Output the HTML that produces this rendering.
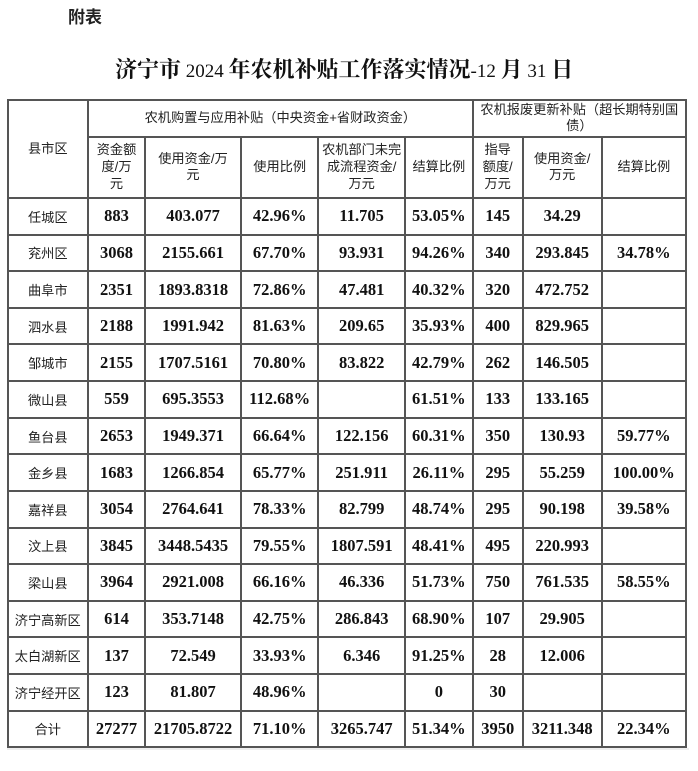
<!DOCTYPE html>
<html><head><meta charset="utf-8">
<style>
*{margin:0;padding:0;box-sizing:border-box}
html,body{width:698px;height:771px;background:#fff;overflow:hidden}
body{position:relative;font-family:"Liberation Sans","Noto Sans CJK SC",sans-serif;color:#1a1a1a}
.h{position:absolute;height:2px;background:#555}
.v{position:absolute;width:2px;background:#555}
.r{position:absolute;left:0;width:698px;height:36.62px}
.r>div,.hd{position:absolute;top:0;height:100%;display:flex;align-items:center;justify-content:center;text-align:center}
.r>div{font-family:"Liberation Serif",serif;font-weight:bold;font-size:16.5px;color:#111}
.r>div.n{font-family:"Liberation Sans","Noto Sans CJK SC",sans-serif;font-weight:normal;font-size:13.2px;color:#222}
.c1{left:7.5px;width:80.5px}.c2{left:88px;width:57px}.c3{left:145px;width:96px}.c4{left:241px;width:77.3px}
.c5{left:318.3px;width:86.7px}.c6{left:405px;width:67.7px}.c7{left:472.7px;width:50px}.c8{left:522.7px;width:79px}.c9{left:601.7px;width:84.3px}
.hd{font-size:13.2px;line-height:16.7px;color:#222;font-family:"Liberation Sans","Noto Sans CJK SC",sans-serif}
.title{position:absolute;left:115px;top:56px;white-space:nowrap;font-family:"Noto Serif CJK SC","Liberation Serif",serif;font-weight:bold;font-size:22px;line-height:26px;color:#111}
.title .d{font-family:"Liberation Serif",serif;font-weight:normal;font-size:19px}
</style></head><body>
<div style="position:absolute;left:68px;top:6px;font-size:17px;font-weight:bold;font-family:'Noto Sans CJK SC',sans-serif;color:#222;line-height:20px">附表</div>
<div class="title">济宁市<span class="d"> 2024 </span>年农机补贴工作落实情况<span class="d">-12 </span>月<span class="d"> 31 </span>日</div>

<!-- header texts -->
<div class="hd c1" style="top:100px;height:98px">县市区</div>
<div class="hd" style="left:88px;width:384.7px;top:100px;height:36.7px">农机购置与应用补贴（中央资金+省财政资金）</div>
<div class="hd" style="left:472.7px;width:213.3px;top:100px;height:36.7px">农机报废更新补贴（超长期特别国<br>债）</div>
<div class="hd c2" style="top:136.7px;height:61.3px">资金额<br>度/万<br>元</div>
<div class="hd c3" style="top:136.7px;height:61.3px">使用资金/万<br>元</div>
<div class="hd c4" style="top:136.7px;height:61.3px">使用比例</div>
<div class="hd c5" style="top:136.7px;height:61.3px">农机部门未完<br>成流程资金/<br>万元</div>
<div class="hd c6" style="top:136.7px;height:61.3px">结算比例</div>
<div class="hd c7" style="top:136.7px;height:61.3px">指导<br>额度/<br>万元</div>
<div class="hd c8" style="top:136.7px;height:61.3px">使用资金/<br>万元</div>
<div class="hd c9" style="top:136.7px;height:61.3px">结算比例</div>

<!-- data rows -->
<div class="r" style="top:198px"><div class="c1 n">任城区</div><div class="c2">883</div><div class="c3">403.077</div><div class="c4">42.96%</div><div class="c5">11.705</div><div class="c6">53.05%</div><div class="c7">145</div><div class="c8">34.29</div><div class="c9"></div></div>
<div class="r" style="top:234.62px"><div class="c1 n">兖州区</div><div class="c2">3068</div><div class="c3">2155.661</div><div class="c4">67.70%</div><div class="c5">93.931</div><div class="c6">94.26%</div><div class="c7">340</div><div class="c8">293.845</div><div class="c9">34.78%</div></div>
<div class="r" style="top:271.24px"><div class="c1 n">曲阜市</div><div class="c2">2351</div><div class="c3">1893.8318</div><div class="c4">72.86%</div><div class="c5">47.481</div><div class="c6">40.32%</div><div class="c7">320</div><div class="c8">472.752</div><div class="c9"></div></div>
<div class="r" style="top:307.86px"><div class="c1 n">泗水县</div><div class="c2">2188</div><div class="c3">1991.942</div><div class="c4">81.63%</div><div class="c5">209.65</div><div class="c6">35.93%</div><div class="c7">400</div><div class="c8">829.965</div><div class="c9"></div></div>
<div class="r" style="top:344.48px"><div class="c1 n">邹城市</div><div class="c2">2155</div><div class="c3">1707.5161</div><div class="c4">70.80%</div><div class="c5">83.822</div><div class="c6">42.79%</div><div class="c7">262</div><div class="c8">146.505</div><div class="c9"></div></div>
<div class="r" style="top:381.1px"><div class="c1 n">微山县</div><div class="c2">559</div><div class="c3">695.3553</div><div class="c4">112.68%</div><div class="c5"></div><div class="c6">61.51%</div><div class="c7">133</div><div class="c8">133.165</div><div class="c9"></div></div>
<div class="r" style="top:417.72px"><div class="c1 n">鱼台县</div><div class="c2">2653</div><div class="c3">1949.371</div><div class="c4">66.64%</div><div class="c5">122.156</div><div class="c6">60.31%</div><div class="c7">350</div><div class="c8">130.93</div><div class="c9">59.77%</div></div>
<div class="r" style="top:454.34px"><div class="c1 n">金乡县</div><div class="c2">1683</div><div class="c3">1266.854</div><div class="c4">65.77%</div><div class="c5">251.911</div><div class="c6">26.11%</div><div class="c7">295</div><div class="c8">55.259</div><div class="c9">100.00%</div></div>
<div class="r" style="top:490.96px"><div class="c1 n">嘉祥县</div><div class="c2">3054</div><div class="c3">2764.641</div><div class="c4">78.33%</div><div class="c5">82.799</div><div class="c6">48.74%</div><div class="c7">295</div><div class="c8">90.198</div><div class="c9">39.58%</div></div>
<div class="r" style="top:527.58px"><div class="c1 n">汶上县</div><div class="c2">3845</div><div class="c3">3448.5435</div><div class="c4">79.55%</div><div class="c5">1807.591</div><div class="c6">48.41%</div><div class="c7">495</div><div class="c8">220.993</div><div class="c9"></div></div>
<div class="r" style="top:564.2px"><div class="c1 n">梁山县</div><div class="c2">3964</div><div class="c3">2921.008</div><div class="c4">66.16%</div><div class="c5">46.336</div><div class="c6">51.73%</div><div class="c7">750</div><div class="c8">761.535</div><div class="c9">58.55%</div></div>
<div class="r" style="top:600.82px"><div class="c1 n">济宁高新区</div><div class="c2">614</div><div class="c3">353.7148</div><div class="c4">42.75%</div><div class="c5">286.843</div><div class="c6">68.90%</div><div class="c7">107</div><div class="c8">29.905</div><div class="c9"></div></div>
<div class="r" style="top:637.44px"><div class="c1 n">太白湖新区</div><div class="c2">137</div><div class="c3">72.549</div><div class="c4">33.93%</div><div class="c5">6.346</div><div class="c6">91.25%</div><div class="c7">28</div><div class="c8">12.006</div><div class="c9"></div></div>
<div class="r" style="top:674.06px"><div class="c1 n">济宁经开区</div><div class="c2">123</div><div class="c3">81.807</div><div class="c4">48.96%</div><div class="c5"></div><div class="c6">0</div><div class="c7">30</div><div class="c8"></div><div class="c9"></div></div>
<div class="r" style="top:710.68px"><div class="c1 n">合计</div><div class="c2">27277</div><div class="c3">21705.8722</div><div class="c4">71.10%</div><div class="c5">3265.747</div><div class="c6">51.34%</div><div class="c7">3950</div><div class="c8">3211.348</div><div class="c9">22.34%</div></div>

<!-- horizontal lines -->
<div class="h" style="left:6.5px;width:680.5px;top:99px"></div>
<div class="h" style="left:87px;width:600px;top:135.7px"></div>
<div class="h" style="left:6.5px;width:680.5px;top:197px"></div>
<div class="h" style="left:6.5px;width:680.5px;top:233.62px"></div>
<div class="h" style="left:6.5px;width:680.5px;top:270.24px"></div>
<div class="h" style="left:6.5px;width:680.5px;top:306.86px"></div>
<div class="h" style="left:6.5px;width:680.5px;top:343.48px"></div>
<div class="h" style="left:6.5px;width:680.5px;top:380.1px"></div>
<div class="h" style="left:6.5px;width:680.5px;top:416.72px"></div>
<div class="h" style="left:6.5px;width:680.5px;top:453.34px"></div>
<div class="h" style="left:6.5px;width:680.5px;top:489.96px"></div>
<div class="h" style="left:6.5px;width:680.5px;top:526.58px"></div>
<div class="h" style="left:6.5px;width:680.5px;top:563.2px"></div>
<div class="h" style="left:6.5px;width:680.5px;top:599.82px"></div>
<div class="h" style="left:6.5px;width:680.5px;top:636.44px"></div>
<div class="h" style="left:6.5px;width:680.5px;top:673.06px"></div>
<div class="h" style="left:6.5px;width:680.5px;top:709.68px"></div>
<div class="h" style="left:6.5px;width:680.5px;top:746.3px"></div>
<div class="h" style="left:6.5px;width:682px;top:748.3px;height:2px;background:#eee"></div>

<!-- vertical lines -->
<div class="v" style="left:6.5px;top:99px;height:649.3px"></div>
<div class="v" style="left:87px;top:99px;height:649.3px"></div>
<div class="v" style="left:471.7px;top:99px;height:649.3px"></div>
<div class="v" style="left:685px;top:99px;height:649.3px"></div>
<div class="v" style="left:144px;top:135.7px;height:612.6px"></div>
<div class="v" style="left:240px;top:135.7px;height:612.6px"></div>
<div class="v" style="left:317.3px;top:135.7px;height:612.6px"></div>
<div class="v" style="left:404px;top:135.7px;height:612.6px"></div>
<div class="v" style="left:521.7px;top:135.7px;height:612.6px"></div>
<div class="v" style="left:600.7px;top:135.7px;height:612.6px"></div>
</body></html>
